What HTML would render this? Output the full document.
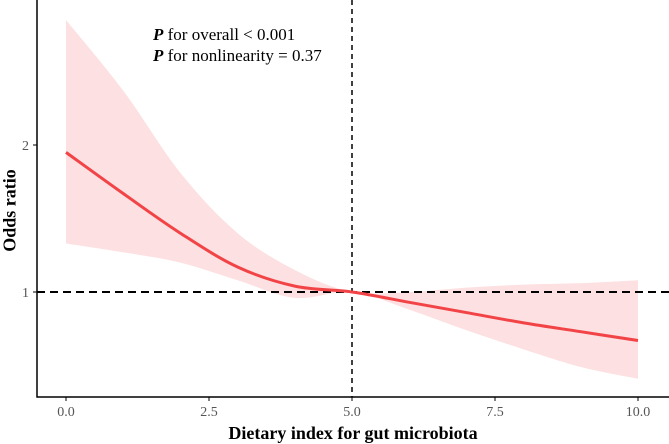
<!DOCTYPE html>
<html><head><meta charset="utf-8"><style>
body{margin:0;background:#fff;}
svg{display:block;font-family:"Liberation Serif",serif;}
</style></head><body>
<svg id="c" width="669" height="444"></svg>
<script>
const xs=[0,1,2,3,4,5,6,7,8,9,10];
const orv=[1.95,1.67,1.40,1.17,1.04,1.0,0.93,0.86,0.79,0.73,0.67];
const upper=[2.85,2.37,1.81,1.40,1.15,1.0,1.0,1.03,1.05,1.06,1.08];
const lower=[1.33,1.27,1.20,1.08,0.96,1.0,0.88,0.74,0.61,0.49,0.41];
const xTicks=[0,2.5,5,7.5,10];
const xTickLabels=["0.0","2.5","5.0","7.5","10.0"];
const yTicks=[1,2];
const yTickLabels=["1","2"];
const NS="http://www.w3.org/2000/svg";
const svg=document.getElementById('c');
const X=v=>66+v*57.2;
const Y=v=>292-(v-1)*147;
function mk(t,a){const e=document.createElementNS(NS,t);for(const k in a)e.setAttribute(k,a[k]);svg.appendChild(e);return e;}
function smooth(px){let d=`M${px[0][0]},${px[0][1]}`;for(let i=0;i<px.length-1;i++){const p0=px[i-1]||px[i],p1=px[i],p2=px[i+1],p3=px[i+2]||p2;d+=` C${p1[0]+(p2[0]-p0[0])/6},${p1[1]+(p2[1]-p0[1])/6} ${p2[0]-(p3[0]-p1[0])/6},${p2[1]-(p3[1]-p1[1])/6} ${p2[0]},${p2[1]}`;}return d;}
const up=xs.map((v,i)=>[X(v),Y(upper[i])]);
const lo=xs.map((v,i)=>[X(v),Y(lower[i])]).reverse();
let band=mk('path',{d:smooth(up)+' L'+smooth(lo).slice(1)+' Z',fill:'#fde0e1',stroke:'none'});


let hl=mk('line',{x1:37,x2:669,y1:Y(1),y2:Y(1),stroke:'#000','stroke-width':2,'stroke-dasharray':'8,5'});


let vl=mk('line',{x1:X(5),x2:X(5),y1:0,y2:397,stroke:'#000','stroke-width':1.5,'stroke-dasharray':'5,4'});


let ln=mk('path',{d:smooth(xs.map((v,i)=>[X(v),Y(orv[i])])),fill:'none',stroke:'#f24447','stroke-width':3});


let ax=mk('path',{d:'M37,0 V397 H669',fill:'none',stroke:'#000','stroke-width':1.5});


xTicks.forEach((v,i)=>{mk('line',{x1:X(v),x2:X(v),y1:397,y2:401,stroke:'#000'});
 const t=mk('text',{x:X(v),y:416,'text-anchor':'middle','font-size':14,fill:'#555'});t.textContent=xTickLabels[i];
 
 });
yTicks.forEach((v,i)=>{mk('line',{x1:33,x2:37,y1:Y(v),y2:Y(v),stroke:'#000'});
 const t=mk('text',{x:29,y:Y(v)+5,'text-anchor':'end','font-size':14,fill:'#555'});t.textContent=yTickLabels[i];
 
 });
</script>
<div style="position:absolute;left:0;top:0;width:669px;height:444px;pointer-events:none;font-family:'Liberation Serif',serif;">
<div style="position:absolute;left:37px;width:632px;top:423px;text-align:center;font-weight:bold;font-size:18px;">Dietary index for gut microbiota</div>
<div style="position:absolute;left:-40px;top:200px;width:100px;text-align:center;font-weight:bold;font-size:18px;transform:rotate(-90deg);">Odds ratio</div>
<div style="position:absolute;left:153px;top:25px;font-size:17px;"><b><i>P</i></b> for overall &lt; 0.001</div>
<div style="position:absolute;left:153px;top:46px;font-size:17px;"><b><i>P</i></b> for nonlinearity = 0.37</div>
</div>
</body></html>
